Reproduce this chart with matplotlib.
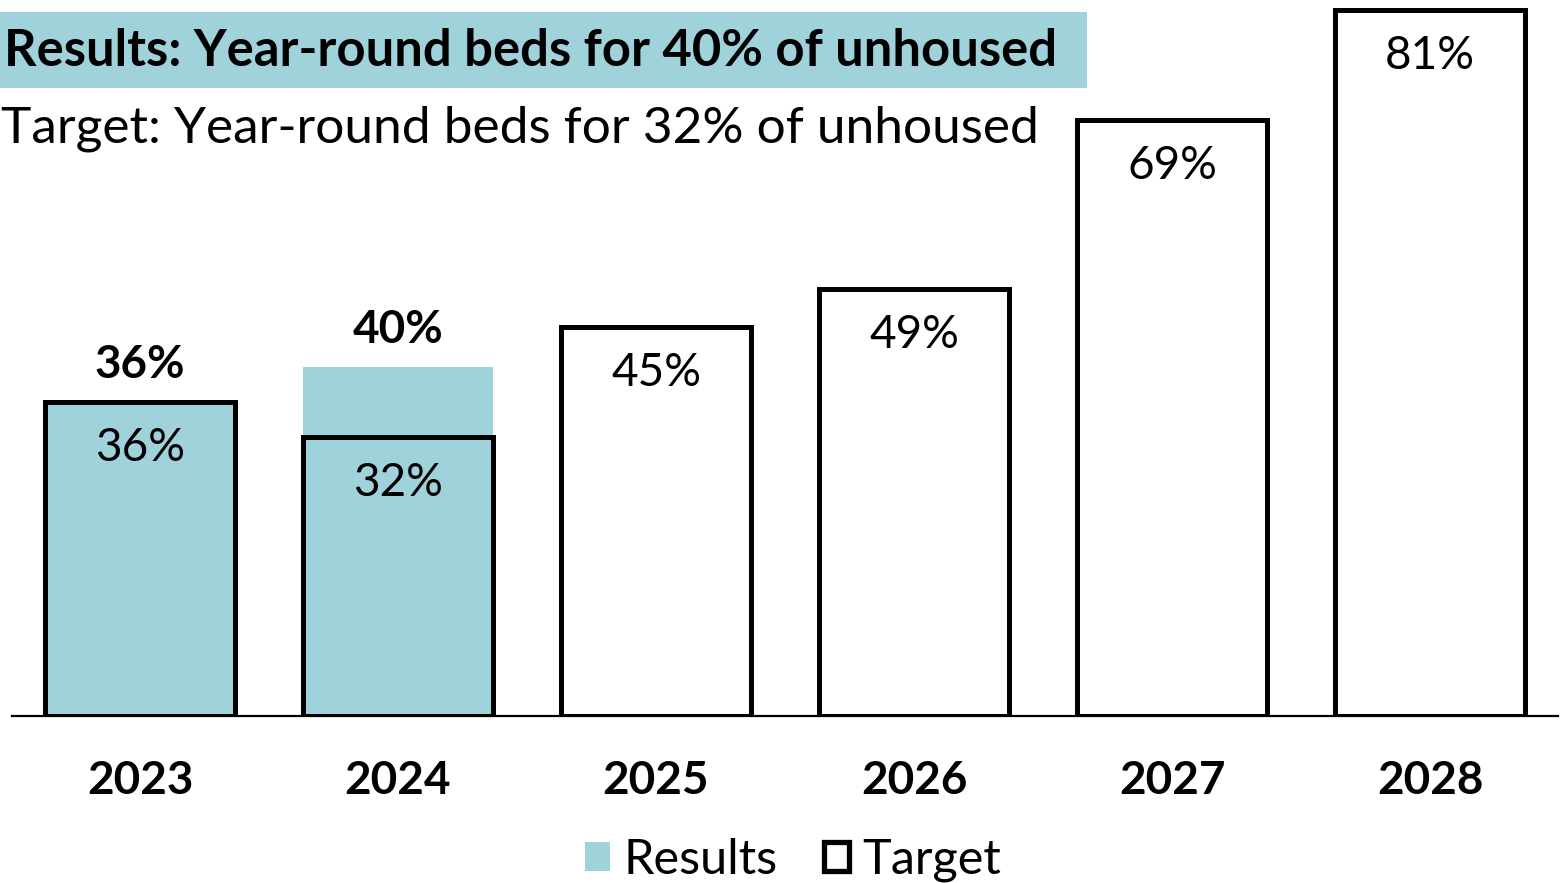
import matplotlib
matplotlib.use("Agg")
import matplotlib.pyplot as plt
from matplotlib.patches import Rectangle, Patch

years = ["2023", "2024", "2025", "2026", "2027", "2028"]
results = [36, 40, 0, 0, 0, 0]
result_labels = ["36%", "40%", "", "", "", ""]
targets = [36, 32, 44.6, 49, 68.3, 81]
target_labels = ["36%", "32%", "45%", "49%", "69%", "81%"]
title_results = "Results: Year-round beds for 40% of unhoused"
title_target = "Target: Year-round beds for 32% of unhoused"

TEAL = "#A0D2DB"
W, H = 1561, 883
plt.rcParams['font.family'] = ['Lato', 'DejaVu Sans']

fig = plt.figure(figsize=(W / 100, H / 100), dpi=100)
ax = fig.add_axes([12 / W, 167 / H, 1546 / W, 715 / H])
x = list(range(len(years)))
ax.set_xlim(-0.496, 5.496)
ax.set_ylim(0, 82)

ax.bar(x, results, width=0.74, color=TEAL, edgecolor='none', zorder=2)
ax.bar(x, targets, width=0.735, facecolor='none', edgecolor='black', linewidth=3.6, zorder=3)

for xi, r, rl, t, tl in zip(x, results, result_labels, targets, target_labels):
    ax.annotate(tl, (xi, t), xytext=(0, -33), textcoords='offset points',
                ha='center', va='center', fontsize=33, zorder=4)
    if rl:
        ax.annotate(rl, (xi, r), xytext=(0, 27), textcoords='offset points',
                    ha='center', va='center', fontsize=33, fontweight='bold', zorder=4)

for s in ['top', 'left', 'right']:
    ax.spines[s].set_visible(False)
ax.spines['bottom'].set_linewidth(1.6)
ax.spines['bottom'].set_zorder(1)
ax.set_yticks([])
ax.set_xticks(x)
ax.set_xticklabels(years, fontsize=33, fontweight='bold')
ax.tick_params(axis='x', length=0, pad=32)

# title band
fig.patches.append(Rectangle((0, 1 - 88 / H), 1087 / W, 76 / H, transform=fig.transFigure,
                             facecolor=TEAL, edgecolor='none', zorder=0))
fig.text(4 / W, 1 - 51 / H, title_results, fontsize=36.5, fontweight='bold', va='center', ha='left')
fig.text(1 / W, 1 - 129 / H, title_target, fontsize=37, va='center', ha='left')

handles = [Patch(facecolor=TEAL, edgecolor='none', label='Results'),
           Patch(facecolor='white', edgecolor='black', linewidth=3.8, label='Target')]
fig.legend(handles=handles, loc='center', bbox_to_anchor=(793 / W, 1 - 860 / H),
           ncol=2, frameon=False, fontsize=35, handlelength=0.52, handleheight=0.52,
           handletextpad=0.28, columnspacing=0.95, borderpad=0)

fig.savefig("out.png", dpi=100)
